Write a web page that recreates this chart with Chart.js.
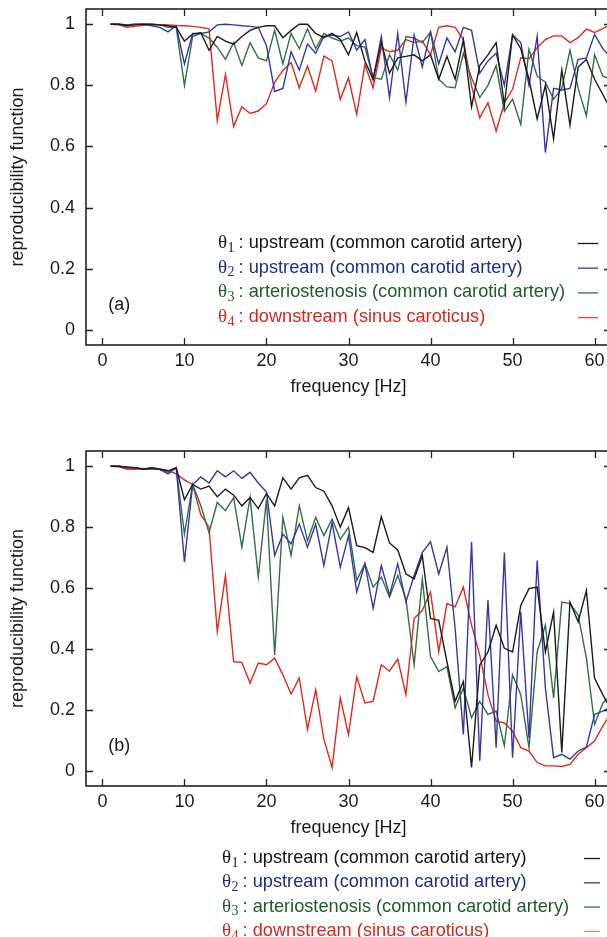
<!DOCTYPE html>
<html>
<head>
<meta charset="utf-8">
<script src="https://cdn.jsdelivr.net/npm/chart.js@4.4.1/dist/chart.umd.min.js"></script>
<style>
  html, body { margin: 0; padding: 0; background: #fff; overflow: hidden; width: 607px; height: 937px; }
  .panel { position: absolute; left: 0; }
  #wrapA { top: 0; }
  #wrapB { top: 440px; }
</style>
</head>
<body>
<div class="panel" id="wrapA"><canvas id="chartA" width="611" height="400"></canvas></div>
<div class="panel" id="wrapB"><canvas id="chartB" width="611" height="497"></canvas></div>
<script>
// frequency bins [Hz]
const freq = [1,2,3,4,5,6,7,8,9,10,11,12,13,14,15,16,17,18,19,20,21,22,23,24,25,26,27,28,29,30,
  31,32,33,34,35,36,37,38,39,40,41,42,43,44,45,46,47,48,49,50,51,52,53,54,55,56,57,58,59,60,61,62];

const xTicks = [0, 10, 20, 30, 40, 50, 60];
const yTicks = [0, 0.2, 0.4, 0.6, 0.8, 1];

// panel (a)
const theta1A = [1.0,1.0,0.995,0.998,1.0,1.0,0.998,0.995,0.99,0.945,0.968,0.972,0.915,0.96,0.945,0.935,0.96,0.98,0.99,0.995,
  0.995,0.956,0.98,1.0,1.0,0.97,0.956,0.97,0.95,0.9,0.973,0.88,0.82,0.94,0.84,0.89,0.895,0.9,0.88,0.9,
  0.82,0.895,0.82,0.95,0.73,0.865,0.9,0.94,0.735,0.965,0.92,0.82,0.69,0.8,0.625,0.85,0.67,0.86,0.885,0.82,0.77,0.72];
const theta2A = [1.0,1.0,0.998,1.0,1.0,0.995,0.99,0.975,0.995,0.87,0.97,0.97,0.975,0.998,1.0,0.998,0.995,0.993,0.99,0.93,
  0.78,0.79,0.91,0.85,0.935,0.905,0.96,0.965,0.96,0.975,0.915,0.95,0.82,0.96,0.76,0.97,0.745,0.965,0.86,0.975,
  0.87,0.955,0.91,0.99,0.98,0.84,0.88,0.905,0.8,0.965,0.94,0.8,0.96,0.58,0.79,0.785,0.79,0.885,0.89,0.967,0.92,0.89];
const theta3A = [1.0,1.0,0.998,1.0,1.0,1.0,0.998,0.99,0.99,0.8,0.96,0.97,0.955,0.925,0.885,0.94,0.865,0.94,0.89,0.88,
  0.98,0.87,0.97,0.92,0.985,0.92,0.97,0.955,0.945,0.955,0.93,0.925,0.825,0.82,0.9,0.85,0.96,0.955,0.94,0.975,
  0.82,0.795,0.792,0.905,0.825,0.76,0.8,0.865,0.715,0.755,0.672,0.918,0.83,0.81,0.755,0.79,0.915,0.79,0.7,0.9,0.83,0.82];
const theta4A = [1.0,0.998,0.99,0.993,0.997,0.998,0.999,0.998,0.996,0.995,0.993,0.99,0.985,0.685,0.836,0.665,0.73,0.708,0.716,0.74,
  0.81,0.849,0.875,0.792,0.863,0.782,0.896,0.88,0.754,0.825,0.705,0.868,0.792,0.923,0.91,0.915,0.95,0.94,0.945,0.9,
  0.99,0.995,0.99,0.95,0.798,0.694,0.743,0.65,0.743,0.787,0.89,0.887,0.923,0.95,0.962,0.962,0.94,0.956,0.984,0.973,0.986,1.0];

// panel (b)
const theta1B = [1.0,1.0,0.998,0.995,0.99,0.995,0.99,0.985,0.995,0.89,0.94,0.925,0.935,0.9,0.925,0.905,0.87,0.897,0.861,0.91,
  0.87,0.962,0.925,0.962,0.97,0.93,0.918,0.87,0.8,0.864,0.739,0.733,0.717,0.834,0.748,0.725,0.647,0.63,0.706,0.5,
  0.494,0.358,0.228,0.293,0.011,0.347,0.39,0.478,0.402,0.39,0.543,0.598,0.603,0.39,0.521,0.06,0.554,0.489,0.592,0.304,0.25,0.2];
const theta2B = [1.0,1.0,0.995,0.995,0.99,0.995,0.99,0.975,0.995,0.685,0.94,0.965,0.945,0.985,0.965,0.985,0.96,0.98,0.945,0.915,
  0.707,0.777,0.745,0.81,0.734,0.81,0.674,0.815,0.668,0.772,0.587,0.68,0.533,0.674,0.576,0.68,0.554,0.641,0.717,0.752,
  0.646,0.734,0.467,0.119,0.752,0.033,0.56,0.076,0.717,0.043,0.522,0.108,0.69,0.272,0.043,0.054,0.038,0.065,0.078,0.185,0.196,0.21];
const theta3B = [1.0,1.0,0.995,0.995,0.99,0.99,0.99,0.98,0.995,0.777,0.94,0.87,0.782,0.881,0.854,0.897,0.734,0.897,0.636,0.891,
  0.38,0.832,0.707,0.87,0.755,0.832,0.772,0.826,0.76,0.8,0.625,0.68,0.603,0.636,0.57,0.641,0.565,0.348,0.63,0.375,
  0.326,0.342,0.207,0.272,0.174,0.228,0.185,0.196,0.082,0.315,0.25,0.076,0.391,0.478,0.239,0.554,0.549,0.511,0.37,0.152,0.222,0.25];
const theta4B = [1.0,0.998,0.99,0.99,0.993,0.99,0.99,0.985,0.975,0.955,0.94,0.84,0.8,0.457,0.641,0.358,0.356,0.288,0.354,0.348,
  0.37,0.315,0.252,0.305,0.136,0.266,0.104,0.011,0.239,0.119,0.309,0.223,0.228,0.348,0.327,0.367,0.25,0.5,0.527,0.587,
  0.391,0.549,0.538,0.603,0.478,0.38,0.25,0.163,0.157,0.13,0.076,0.065,0.027,0.016,0.016,0.014,0.021,0.054,0.076,0.098,0.147,0.19];

const subscripts = ['1', '2', '3', '4'];
const legendTexts = [
  ': upstream (common carotid artery)',
  ': upstream (common carotid artery)',
  ': arteriostenosis (common carotid artery)',
  ': downstream (sinus caroticus)'
];
const lineColors = ['#1b1b1b', '#3439a6', '#2f7142', '#e2291d'];
const textColors = ['#151515', '#1f2d8a', '#1d5a2c', '#d8261c'];
const keyColorsA = ['#1b1b1b', '#3439a6', '#2f7142', '#e8472c'];
const keyColorsB = ['#1b1b1b', '#2c3a92', '#2f7142', '#ea8a3c'];

const SANS = '"Liberation Sans", Arial, Helvetica, sans-serif';
const SERIF = '"Liberation Serif", "DejaVu Serif", serif';

// gnuplot-like frame with inward ticks, panel tag and key
const gnuFrame = {
  id: 'gnuFrame',
  afterDatasetsDraw(chart, args, o) {
    const { ctx, chartArea: a, scales: { x, y } } = chart;
    ctx.save();
    ctx.strokeStyle = '#222';
    ctx.lineWidth = 1.3;
    ctx.beginPath();
    xTicks.forEach(v => {
      const px = Math.round(x.getPixelForValue(v)) + 0.5;
      ctx.moveTo(px, a.bottom); ctx.lineTo(px, a.bottom - 7);
      ctx.moveTo(px, a.top); ctx.lineTo(px, a.top + 7);
    });
    yTicks.forEach(v => {
      const py = Math.round(y.getPixelForValue(v)) + 0.5;
      ctx.moveTo(a.left, py); ctx.lineTo(a.left + 7, py);
      ctx.moveTo(a.right, py); ctx.lineTo(a.right - 7, py);
    });
    ctx.stroke();
    ctx.lineWidth = 1.6;
    ctx.strokeRect(a.left, a.top, a.right - a.left, a.bottom - a.top);

    // panel tag
    ctx.fillStyle = '#1a1a1a';
    ctx.font = '18px ' + SANS;
    ctx.textBaseline = 'middle';
    ctx.textAlign = 'left';
    ctx.fillText(o.tag, x.getPixelForValue(0.7), y.getPixelForValue(0.08));

    // key
    subscripts.forEach((s, i) => {
      const ty = o.keyTop + i * o.keyStep;
      let tx = o.keyLeft;
      ctx.fillStyle = textColors[i];
      ctx.font = '19px ' + SERIF;
      ctx.fillText('\u03B8', tx, ty);
      tx += ctx.measureText('\u03B8').width + 0.5;
      ctx.font = '14px ' + SERIF;
      ctx.fillText(s, tx, ty + 5);
      tx += ctx.measureText(s).width + 4;
      ctx.font = '18.2px ' + SANS;
      ctx.fillText(legendTexts[i], tx, ty);
      ctx.strokeStyle = o.keyColors[i];
      ctx.lineWidth = 1.3;
      ctx.beginPath();
      ctx.moveTo(o.keyX0, ty + 0.5);
      ctx.lineTo(o.keyX1, ty + 0.5);
      ctx.stroke();
    });
    ctx.restore();
  }
};

const makePanel = (id, series, pad, frameOpts) => {
  return new Chart(document.getElementById(id), {
    type: 'line',
    data: {
      labels: freq,
      datasets: series.map((s, i) => ({
        label: '\u03B8' + subscripts[i],
        data: freq.map((f, k) => ({ x: f, y: s[k] })),
        borderColor: lineColors[i],
        borderWidth: 1.4,
        pointRadius: 0,
        tension: 0,
        fill: false
      }))
    },
    options: {
      responsive: false,
      animation: false,
      devicePixelRatio: 1,
      layout: { padding: { top: pad.top, bottom: pad.bottom, left: 0, right: 0 } },
      plugins: { legend: { display: false }, tooltip: { enabled: false }, gnuFrame: frameOpts },
      scales: {
        x: {
          type: 'linear',
          min: -2, max: 62,
          afterBuildTicks: s => { s.ticks = xTicks.map(v => ({ value: v })); },
          afterFit: s => { s.height = 55; s.paddingLeft = 0; s.paddingRight = 0; },
          grid: { display: false, drawTicks: false },
          border: { display: false },
          ticks: { padding: 5, color: '#1a1a1a', font: { size: 18, family: SANS }, callback: v => String(v) },
          title: { display: true, text: 'frequency [Hz]', color: '#1a1a1a', font: { size: 18, family: SANS }, padding: { top: 0, bottom: 2 } }
        },
        y: {
          type: 'linear',
          min: -0.05, max: 1.05,
          afterBuildTicks: s => { s.ticks = yTicks.map(v => ({ value: v })); },
          afterFit: s => { s.width = 86; s.paddingTop = 0; s.paddingBottom = 0; },
          grid: { display: false, drawTicks: false },
          border: { display: false },
          ticks: { padding: 11, color: '#1a1a1a', font: { size: 18, family: SANS }, callback: v => String(v) },
          title: { display: true, text: 'reproducibility function', color: '#1a1a1a', font: { size: 18, family: SANS }, padding: { top: 7, bottom: 0 } }
        }
      }
    },
    plugins: [gnuFrame]
  });
};

makePanel('chartA', [theta1A, theta2A, theta3A, theta4A], { top: 9, bottom: 0 },
  { tag: '(a)', keyLeft: 218, keyTop: 243, keyStep: 24.7, keyX0: 578, keyX1: 598, keyColors: keyColorsA });
makePanel('chartB', [theta1B, theta2B, theta3B, theta4B], { top: 11, bottom: 96 },
  { tag: '(b)', keyLeft: 222, keyTop: 418, keyStep: 24.3, keyX0: 584, keyX1: 600, keyColors: keyColorsB });
</script>
</body>
</html>
